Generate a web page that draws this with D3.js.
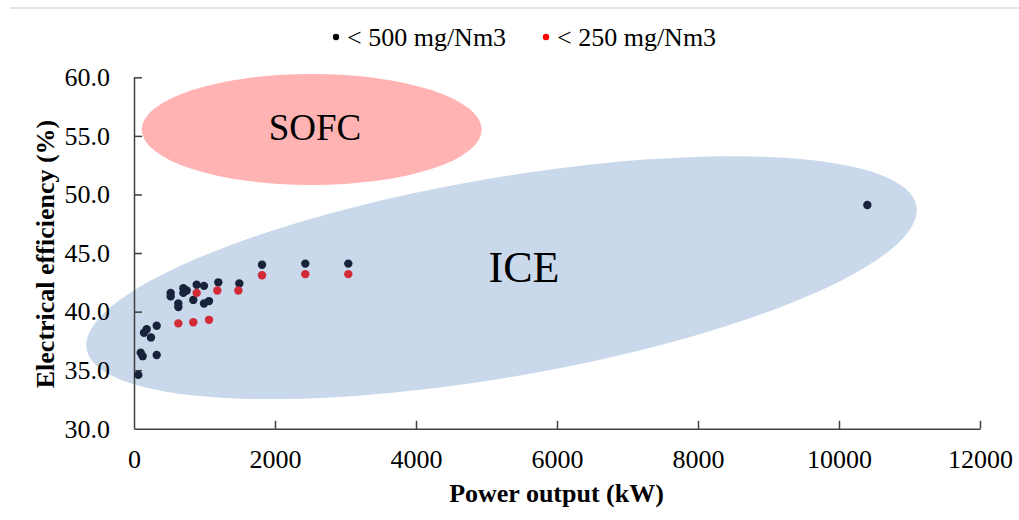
<!DOCTYPE html>
<html>
<head>
<meta charset="utf-8">
<script src="https://cdn.jsdelivr.net/npm/d3@7"></script>
<style>
html,body{margin:0;padding:0;background:#fff;}
svg{display:block;}
text{font-family:"Liberation Serif","Times New Roman",serif;}
</style>
</head>
<body>
<svg id="chart" width="1019" height="520"></svg>
<script>
// ---- data ----
const seriesNames = ["< 500 mg/Nm3", "< 250 mg/Nm3"];
const power500 = [61, 95, 123, 322, 142, 180, 241, 322, 520, 520, 629, 629, 700, 700, 747, 841, 889, 993, 993, 1064, 1196, 1494, 1816, 2430, 3040, 10402];
const eff500   = [34.6, 36.5, 36.2, 36.3, 38.2, 38.5, 37.8, 38.8, 41.6, 41.3, 40.7, 40.4, 42.0, 41.6, 41.8, 41.0, 42.3, 42.2, 40.7, 40.9, 42.5, 42.4, 44.0, 44.1, 44.1, 49.1];
const power250 = [629, 841, 1064, 889, 1182, 1480, 1816, 2430, 3040];
const eff250   = [39.0, 39.1, 39.3, 41.6, 41.8, 41.8, 43.1, 43.2, 43.2];
const xTicks = [0, 2000, 4000, 6000, 8000, 10000, 12000];
const yTicks = [30, 35, 40, 45, 50, 55, 60];
const regionNames = ["SOFC", "ICE"];
const regionPower = [2521, 5213];
const regionEff = [55.54, 42.9];
const labelPower = [2567, 5532];
const labelEff = [54.64, 42.54];

// ---- layout ----
const svg = d3.select("#chart");
const x = d3.scaleLinear().domain([0, 12000]).range([134, 980]);
const y = d3.scaleLinear().domain([30, 60]).range([428.8, 77.3]);

// top separator
svg.append("line").attr("x1", 10).attr("x2", 1019).attr("y1", 8).attr("y2", 8)
  .attr("stroke", "#dcdcdc").attr("stroke-width", 1.5);

// regions
const regionStyle = [
  {rx: 170, ry: 55.5, rot: 0, fill: "#ffb3b3", size: 37},
  {rx: 421, ry: 99.6, rot: -9.78, fill: "#c9d8ea", size: 44}
];
regionNames.forEach((n, i) => {
  const s = regionStyle[i];
  svg.append("ellipse")
    .attr("cx", 0).attr("cy", 0).attr("rx", s.rx).attr("ry", s.ry)
    .attr("transform", `translate(${x(regionPower[i])},${y(regionEff[i])}) rotate(${s.rot})`)
    .attr("fill", s.fill);
});

// axes
const axisColor = "#404040";
const fs = 26;
const gx = svg.append("g").attr("transform", `translate(0,${y(30)})`)
  .call(d3.axisBottom(x).tickValues(xTicks).tickSize(-8).tickSizeOuter(0).tickPadding(20.5).tickFormat(d3.format("d")));
const gy = svg.append("g").attr("transform", `translate(${x(0)},0)`)
  .call(d3.axisLeft(y).tickValues(yTicks).tickSize(-8).tickSizeOuter(0).tickPadding(24).tickFormat(d3.format(".1f")));
[gx, gy].forEach(g => {
  g.select(".domain").attr("stroke", axisColor).attr("stroke-width", 1.5);
  g.selectAll(".tick line").attr("stroke", axisColor).attr("stroke-width", 1.5);
  g.selectAll(".tick text").attr("fill", "#000").style("font-size", fs + "px")
    .style("font-family", '"Liberation Serif","Times New Roman",serif');
});
gy.selectAll(".tick").filter(d => d === 30).select("line").remove();
gx.selectAll(".tick").filter(d => d === 0).select("line").remove();

// region labels
regionNames.forEach((n, i) => {
  svg.append("text").attr("x", x(labelPower[i])).attr("y", y(labelEff[i]))
    .attr("text-anchor", "middle").style("font-size", regionStyle[i].size + "px").attr("fill", "#000")
    .text(n);
});

// points
const colors = ["#18233a", "#d22a36"];
svg.append("g").selectAll("circle").data(power500.map((p, i) => [p, eff500[i]]))
  .join("circle").attr("cx", d => x(d[0])).attr("cy", d => y(d[1])).attr("r", 4.2).attr("fill", colors[0]);
svg.append("g").selectAll("circle").data(power250.map((p, i) => [p, eff250[i]]))
  .join("circle").attr("cx", d => x(d[0])).attr("cy", d => y(d[1])).attr("r", 4.2).attr("fill", colors[1]);

// axis titles
svg.append("text").attr("x", 556.5).attr("y", 502).attr("text-anchor", "middle")
  .style("font-size", fs + "px").style("font-weight", "bold").text("Power output (kW)");
svg.append("text").attr("transform", "translate(54,254) rotate(-90)").attr("text-anchor", "middle")
  .style("font-size", fs + "px").style("font-weight", "bold").text("Electrical efficiency (%)");

// legend
const legendX = [336, 546];
const legendColors = ["#000", "#ff0000"];
seriesNames.forEach((n, i) => {
  svg.append("circle").attr("cx", legendX[i]).attr("cy", 37).attr("r", 3.2).attr("fill", legendColors[i]);
  svg.append("text").attr("x", legendX[i] + 11).attr("y", 45.5).style("font-size", fs + "px").text(n);
});
</script>
</body>
</html>
